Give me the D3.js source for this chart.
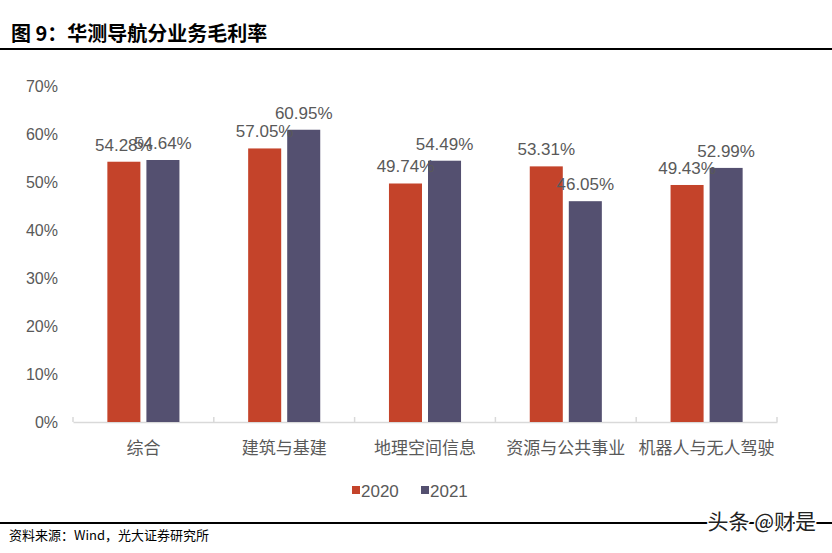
<!DOCTYPE html>
<html><head><meta charset="utf-8">
<script src="https://cdn.jsdelivr.net/npm/d3@7/dist/d3.min.js"></script>
<style>
html,body{margin:0;padding:0;background:#fff;}
svg{display:block;}
</style></head>
<body>
<svg id="chart" width="832" height="553"></svg>
<script>
const categories = ["综合", "建筑与基建", "地理空间信息", "资源与公共事业", "机器人与无人驾驶"];
const seriesNames = ["2020", "2021"];
const values2020 = [54.28, 57.05, 49.74, 53.31, 49.43];
const values2021 = [54.64, 60.95, 54.49, 46.05, 52.99];
const yTicks = [0, 10, 20, 30, 40, 50, 60, 70];
const colors = ["#C4432A", "#545070"];

const svg = d3.select("#chart");
const cjk = "'Noto Sans CJK SC', 'Liberation Sans', Arial, sans-serif";
const latin = "'Liberation Sans', Arial, sans-serif";

// Title
svg.append("text").attr("x", 11).attr("y", 41)
  .style("font-family", cjk).style("font-weight", "bold").style("font-size", "20px")
  .attr("fill", "#000").text("图 9：华测导航分业务毛利率");
svg.append("rect").attr("x", 0).attr("y", 48).attr("width", 832).attr("height", 2).attr("fill", "#000");

// Scales
const x0 = d3.scaleBand().domain(categories).range([73, 777]).paddingInner(0).paddingOuter(0);
const x1 = d3.scaleBand().domain(seriesNames).range([0, x0.bandwidth()]).paddingInner(0.154).paddingOuter(0.88);
const y = d3.scaleLinear().domain([0, 70]).range([422, 86.35]);

// Y axis labels
const yAxis = d3.axisLeft(y).tickValues(yTicks).tickFormat(d => d + "%").tickSize(0).tickPadding(0);
const yg = svg.append("g").attr("transform", "translate(58,0)").call(yAxis);
yg.select(".domain").remove();
yg.selectAll("text").style("font-family", latin).style("font-size", "16px").attr("fill", "#595959").attr("dy", "0.35em");

// X axis
const xAxis = d3.axisBottom(x0).tickSize(0).tickPadding(0);
const xg = svg.append("g").attr("transform", "translate(0,422)").call(xAxis);
xg.select(".domain").attr("stroke", "#D9D9D9").attr("stroke-width", 1.5);
xg.selectAll("text").style("font-family", cjk).style("font-size", "17px").attr("fill", "#595959").attr("y", 26).attr("dy", "0.35em");
// boundary ticks
const bounds = categories.map(c => x0(c)).concat([x0(categories[categories.length-1]) + x0.bandwidth()]);
xg.selectAll(".btick").data(bounds).enter().append("line")
  .attr("x1", d => d).attr("x2", d => d).attr("y1", 0).attr("y2", -5)
  .attr("stroke", "#D9D9D9").attr("stroke-width", 1.5);

// Bars
const data = categories.map((c, i) => ({cat: c, vals: [{s: seriesNames[0], v: values2020[i]}, {s: seriesNames[1], v: values2021[i]}]}));
const groups = svg.append("g").selectAll("g").data(data).enter().append("g")
  .attr("transform", d => `translate(${x0(d.cat)},0)`);
groups.selectAll("rect").data(d => d.vals).enter().append("rect")
  .attr("x", d => x1(d.s)).attr("width", x1.bandwidth())
  .attr("y", d => y(d.v)).attr("height", d => y(0) - y(d.v))
  .attr("fill", (d, i) => colors[i]);
groups.selectAll("text").data(d => d.vals).enter().append("text")
  .attr("x", d => x1(d.s) + x1.bandwidth() / 2).attr("y", d => y(d.v) - 11)
  .attr("text-anchor", "middle")
  .style("font-family", latin).style("font-size", "17px").attr("fill", "#595959")
  .text(d => d.v.toFixed(2) + "%");

// Legend
const legend = svg.append("g");
const legX = [352, 421];
seriesNames.forEach((s, i) => {
  legend.append("rect").attr("x", legX[i]).attr("y", 486).attr("width", 8).attr("height", 8).attr("fill", colors[i]);
  legend.append("text").attr("x", legX[i] + 9).attr("y", 491).attr("dy", "0.35em")
    .style("font-family", latin).style("font-size", "17px").attr("fill", "#595959").text(s);
});

// Bottom rule and source
svg.append("rect").attr("x", 0).attr("y", 522).attr("width", 832).attr("height", 2).attr("fill", "#000");
svg.append("text").attr("x", 9).attr("y", 540)
  .style("font-family", cjk).style("font-size", "13px").attr("fill", "#000")
  .text("资料来源：Wind，光大证券研究所");

// Watermark
svg.append("text").attr("x", 816).attr("y", 529).attr("text-anchor", "end")
  .style("font-family", cjk).style("font-size", "21px")
  .attr("fill", "#222").attr("stroke", "#fff").attr("stroke-width", 3).attr("paint-order", "stroke")
  .text("头条 @财是");
</script>
</body></html>
